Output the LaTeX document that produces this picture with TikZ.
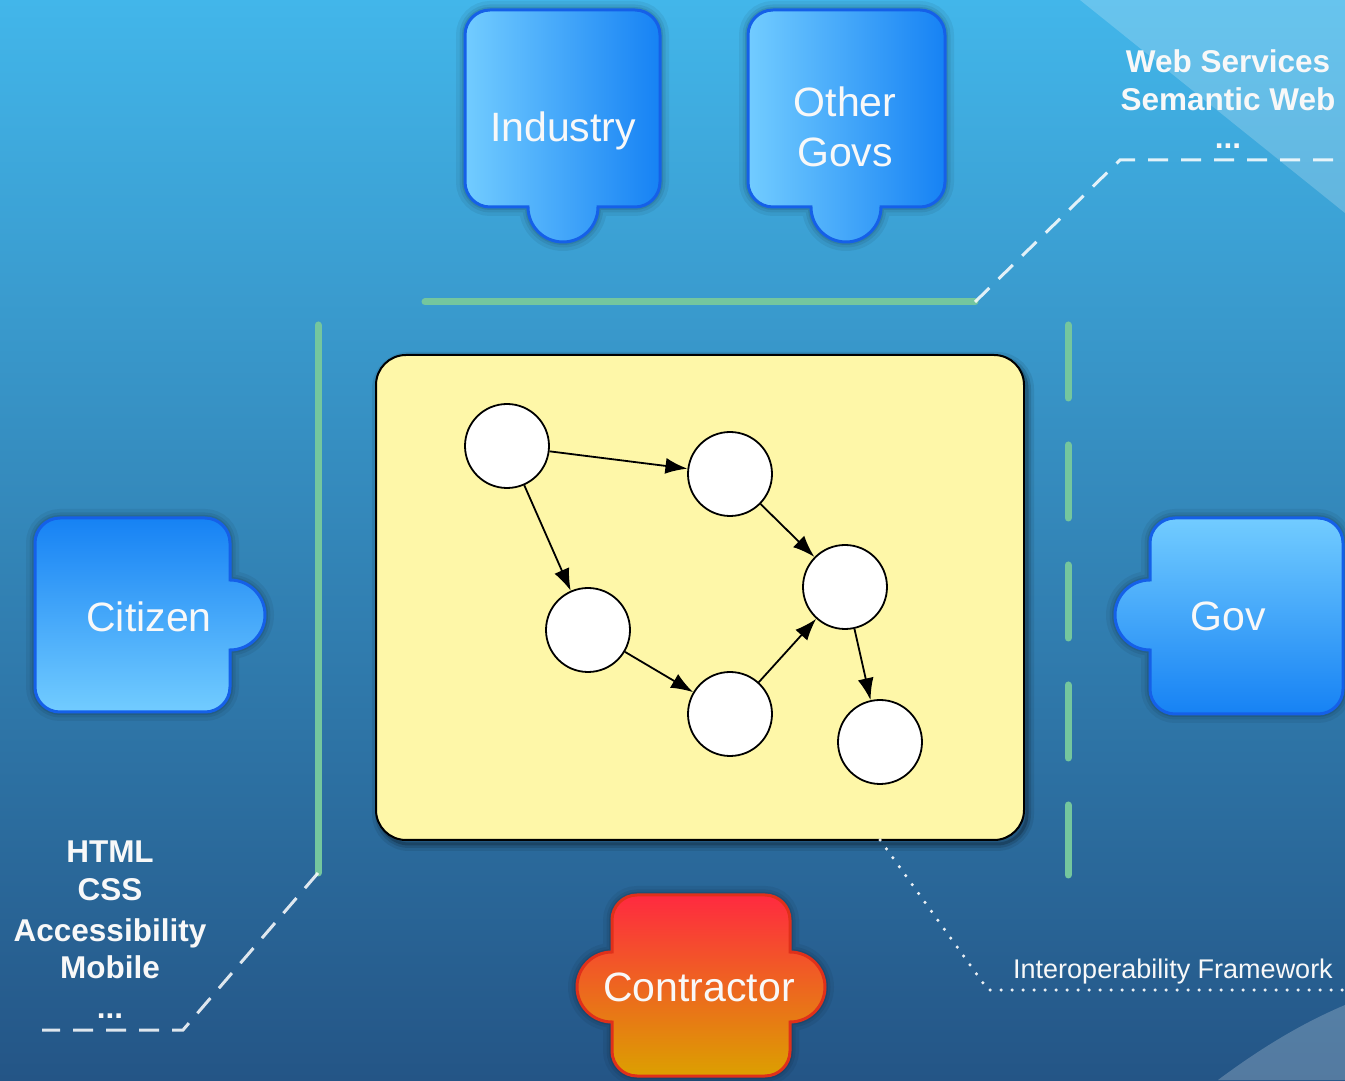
\documentclass[tikz,border=0pt]{standalone}
\usepackage{fontspec}
\setmainfont{Liberation Sans}
\usetikzlibrary{arrows.meta}
\definecolor{bgtop}{HTML}{42B6EA}
\definecolor{bgmid}{HTML}{3689C2}
\definecolor{bgbot}{HTML}{245586}
\definecolor{pzlight}{HTML}{72CCFF}
\definecolor{pzdark}{HTML}{1682F4}
\definecolor{pzborder}{HTML}{1560E8}
\definecolor{ctop}{HTML}{FF2A40}
\definecolor{cmid}{HTML}{F05A28}
\definecolor{cbot}{HTML}{DCA000}
\definecolor{cborder}{HTML}{E0301A}
\definecolor{boxyellow}{HTML}{FEF7A8}
\definecolor{grn}{HTML}{74C69E}
\definecolor{txtw}{HTML}{F8F8F8}
\tikzset{
  softshadow/.style={
    preaction={draw=black,draw opacity=0.06,line width=18pt},
    preaction={draw=black,draw opacity=0.07,line width=11pt},
    preaction={draw=black,draw opacity=0.09,line width=6pt}},
  boxshadow/.style={
    preaction={draw=black,draw opacity=0.08,line width=14pt,transform canvas={xshift=3pt,yshift=-4pt}},
    preaction={draw=black,draw opacity=0.12,line width=8pt,transform canvas={xshift=3pt,yshift=-4pt}},
    preaction={draw=black,draw opacity=0.2,line width=3pt,transform canvas={xshift=3pt,yshift=-4pt}}},
  piece/.style={draw=pzborder,line width=3pt,softshadow},
  lbl/.style={text=txtw,font=\fontsize{41}{48}\selectfont,anchor=base,inner sep=0pt},
  bold/.style={text=txtw,font=\fontsize{31.5}{38}\selectfont\bfseries,anchor=base,inner sep=0pt},
  circ/.style={circle,draw=black,line width=1.8pt,fill=white,minimum size=84pt,inner sep=0pt},
  arr/.style={line width=1.8pt,-{Latex[length=22pt,width=16pt]}},
  grnline/.style={grn,line width=7pt,line cap=round},
  wdash/.style={white,draw opacity=0.85,line width=3pt,dash pattern=on 20pt off 13pt},
  wdot/.style={white,draw opacity=0.9,line width=3.5pt,line cap=round,dash pattern=on 0pt off 11pt}
}
\begin{document}
\begin{tikzpicture}[x=1pt,y=1pt]
\useasboundingbox (0,0) rectangle (1345,1080);
% background
\shade[top color=bgtop,middle color=bgmid,bottom color=bgbot] (0,0) rectangle (1345,1080);
\fill[white,opacity=0.2] (1080,1080) -- (1345,867) -- (1345,1080) -- cycle;
\fill[white,opacity=0.22] (1218,0) .. controls (1265,35) and (1305,58) .. (1345,75) -- (1345,0) -- cycle;

% green lines
\coordinate (gtl) at (425,778);
\coordinate (gtr) at (975,778);
\coordinate (glt) at (318,755);
\coordinate (glb) at (318,207);
\coordinate (grt) at (1068,755);
\coordinate (grb) at (1068,205);
\draw[grnline] (gtl) -- (gtr);
\draw[grnline] (glt) -- (glb);
\draw[grnline,dash pattern=on 73pt off 47pt] (grt) -- (grb);

% white dashed leaders
\coordinate (wt1) at (1120,920);
\coordinate (wt2) at (1345,920);
\draw[wdash] (gtr) -- (wt1) -- (wt2);
\coordinate (wb1) at (183,50);
\coordinate (wb2) at (42,50);
\draw[wdash] (glb) -- (wb1) -- (wb2);

% pieces
\path[piece,left color=pzlight,right color=pzdark]
  (465,1045) arc[start angle=180,end angle=90,radius=25] -- (635,1070)
  arc[start angle=90,end angle=0,radius=25] -- (660,898)
  arc[start angle=0,end angle=-90,radius=25] -- (598,873)
  arc[start angle=0,end angle=-180,radius=35] -- (490,873)
  arc[start angle=-90,end angle=-180,radius=25] -- cycle;
\path[piece,left color=pzlight,right color=pzdark]
  (748,1045) arc[start angle=180,end angle=90,radius=25] -- (920,1070)
  arc[start angle=90,end angle=0,radius=25] -- (945,898)
  arc[start angle=0,end angle=-90,radius=25] -- (881,873)
  arc[start angle=0,end angle=-180,radius=35] -- (773,873)
  arc[start angle=-90,end angle=-180,radius=25] -- cycle;
\path[piece,top color=pzdark,bottom color=pzlight]
  (35,537) arc[start angle=180,end angle=90,radius=25] -- (205,562)
  arc[start angle=90,end angle=0,radius=25] -- (230,500)
  arc[start angle=90,end angle=-90,radius=35] -- (230,393)
  arc[start angle=0,end angle=-90,radius=25] -- (60,368)
  arc[start angle=-90,end angle=-180,radius=25] -- cycle;
\path[piece,top color=pzlight,bottom color=pzdark]
  (1150,537) arc[start angle=180,end angle=90,radius=25] -- (1318,562)
  arc[start angle=90,end angle=0,radius=25] -- (1343,391)
  arc[start angle=0,end angle=-90,radius=25] -- (1175,366)
  arc[start angle=-90,end angle=-180,radius=25] -- (1150,430)
  arc[start angle=-90,end angle=-270,radius=35] -- cycle;
\path[draw=cborder,line width=3pt,softshadow,top color=ctop,middle color=cmid,bottom color=cbot]
  (612,160) arc[start angle=180,end angle=90,radius=25] -- (765,185)
  arc[start angle=90,end angle=0,radius=25] -- (790,128)
  arc[start angle=90,end angle=-90,radius=35] -- (790,29)
  arc[start angle=0,end angle=-90,radius=25] -- (637,4)
  arc[start angle=-90,end angle=-180,radius=25] -- (612,58)
  arc[start angle=-90,end angle=-270,radius=35] -- cycle;

% labels of pieces
\node[lbl] (ind) at (563,938) {Industry};
\node[lbl] (oth1) at (845,963) {Other};
\node[lbl] (oth2) at (845,913) {Govs};
\node[lbl] (cit) at (149,448) {Citizen};
\node[lbl] (gov) at (1228,449) {Gov};
\node[lbl] (con) at (699,79) {Contractor};

% yellow frame
\node[draw=black,line width=2pt,fill=boxyellow,rounded corners=30pt,
  minimum width=648pt,minimum height=485pt,boxshadow] (frame) at (700,482.5) {};

% graph
\node[circ] (A) at (507,634) {};
\node[circ] (B) at (730,606) {};
\node[circ] (C) at (845,493) {};
\node[circ] (D) at (588,450) {};
\node[circ] (E) at (730,366) {};
\node[circ] (F) at (880,338) {};
\draw[arr] (A) -- (B);
\draw[arr] (A) -- (D);
\draw[arr] (B) -- (C);
\draw[arr] (D) -- (E);
\draw[arr] (E) -- (C);
\draw[arr] (C) -- (F);

% dotted leader
\coordinate (d0) at (880,240);
\coordinate (d1) at (988,90);
\coordinate (d2) at (1345,90);
\draw[wdot] (d0) -- (d1) -- (d2);

% texts
\node[bold] (ws) at (1228,1007) {Web Services};
\node[bold] (sw) at (1228,969) {Semantic Web};
\node[bold] (dt1) at (1228,931) {...};
\node[bold] (html) at (110,217) {HTML};
\node[bold] (css) at (110,179) {CSS};
\node[bold] (acc) at (110,139) {Accessibility};
\node[bold] (mob) at (110,101) {Mobile};
\node[bold] (dt2) at (110,62) {...};
\node[text=txtw,font=\fontsize{27}{30}\selectfont,anchor=base,inner sep=0pt] (iop) at (1173,102) {Interoperability Framework};
\end{tikzpicture}
\end{document}
